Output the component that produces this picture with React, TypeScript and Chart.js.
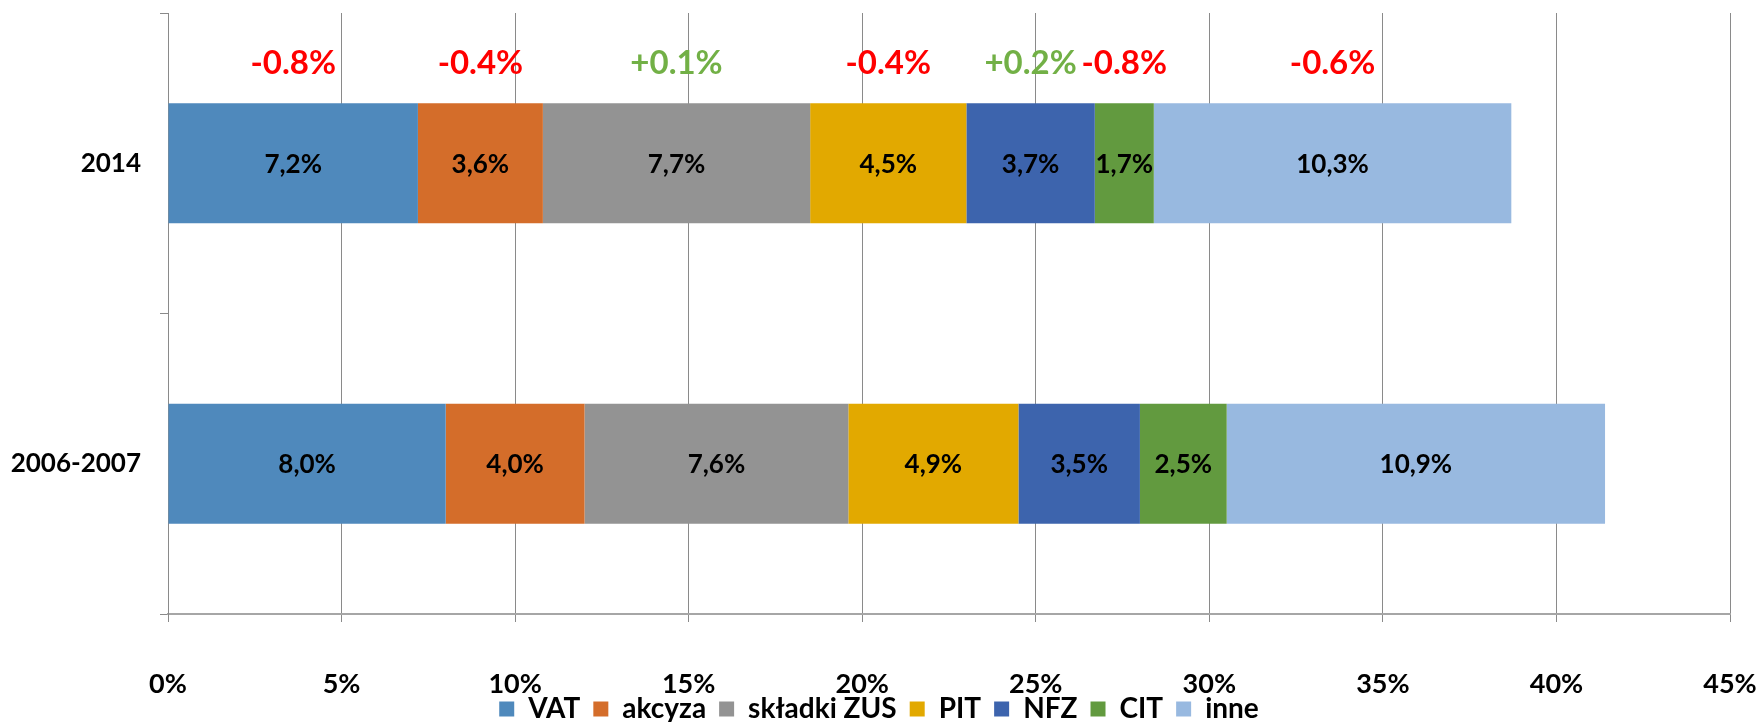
import React, { useEffect, useRef } from "react";
import { Chart, registerables } from "chart.js";

Chart.register(...registerables);

const categories = ["2014", "2006-2007"];
const seriesNames = ["VAT", "akcyza", "składki ZUS", "PIT", "NFZ", "CIT", "inne"];
const vat = [7.2, 8.0];
const akcyza = [3.6, 4.0];
const zus = [7.7, 7.6];
const pit = [4.5, 4.9];
const nfz = [3.7, 3.5];
const cit = [1.7, 2.5];
const inne = [10.3, 10.9];
const changes = [-0.8, -0.4, 0.1, -0.4, 0.2, -0.8, -0.6];
const seriesColors = ["#4F89BC", "#D46D2A", "#939393", "#E2A900", "#3D64AD", "#629A3F", "#98B9E0"];

const FONT = "Lato";
const W = 1758;
const H = 733;

const labelsPlugin = {
  id: "segLabels",
  afterDatasetsDraw(chart: any) {
    const ctx = chart.ctx;
    ctx.save();
    ctx.textAlign = "center";
    ctx.textBaseline = "middle";
    chart.data.datasets.forEach((ds: any, di: number) => {
      const meta = chart.getDatasetMeta(di);
      meta.data.forEach((el: any, i: number) => {
        const v = ds.data[i];
        const c = el.getCenterPoint();
        ctx.fillStyle = "#000";
        ctx.font = `bold 26px ${FONT}`;
        ctx.fillText(v.toFixed(1).replace(".", ",") + "%", c.x, c.y + 1);
        if (i === 0) {
          const ch = changes[di];
          const txt = (ch > 0 ? "+" : "") + ch.toFixed(1) + "%";
          ctx.fillStyle = ch < 0 ? "#FF0000" : "#72B046";
          ctx.font = `bold 33px ${FONT}`;
          const top = Math.min(el.y - el.height / 2, el.y + el.height / 2);
          ctx.fillText(txt, c.x, top - 40);
        }
      });
    });
    ctx.restore();
  },
};

export default function App() {
  const ref = useRef<HTMLCanvasElement>(null);
  useEffect(() => {
    if (!ref.current) return;
    Chart.defaults.font.family = FONT;
    const series = [vat, akcyza, zus, pit, nfz, cit, inne];
    const chart = new Chart(ref.current, {
      type: "bar",
      data: {
        labels: categories,
        datasets: series.map((d, i) => ({
          label: seriesNames[i],
          data: d,
          backgroundColor: seriesColors[i],
          borderWidth: 0,
          barPercentage: 0.8,
          categoryPercentage: 0.5,
        })),
      },
      options: {
        indexAxis: "y",
        animation: false,
        responsive: false,
        maintainAspectRatio: false,
        layout: { padding: { left: 0, right: 0, top: 13, bottom: 0 } },
        plugins: {
          tooltip: { enabled: false },
          legend: {
            position: "bottom",
            labels: {
              boxWidth: 15,
              boxHeight: 15,
              padding: 13,
              color: "#000",
              font: { family: FONT, size: 28, weight: "bold" },
            },
          },
        },
        scales: {
          x: {
            stacked: true,
            min: 0,
            max: 45,
            ticks: {
              stepSize: 5,
              color: "#000",
              padding: 46,
              font: { family: FONT, size: 27, weight: "bold" },
              callback: (v: any) => v + "%",
              maxRotation: 0,
            },
            grid: { color: "#8a8a8a", lineWidth: 1, drawTicks: true, tickLength: 8, tickColor: "#8a8a8a" },
            border: { display: true, color: "#a6a6a6", width: 2 },
            afterFit: (s: any) => {
              s.height = 68;
              s.paddingLeft = 0;
              s.paddingRight = 28;
              s._computeLabelArea = () => undefined;
            },
          },
          y: {
            stacked: true,
            ticks: {
              color: "#000",
              padding: 19,
              font: { family: FONT, size: 26, weight: "bold" },
            },
            grid: { drawOnChartArea: false, drawTicks: true, tickLength: 8, color: "#8a8a8a", offset: true },
            border: { display: true, color: "#8a8a8a", width: 1 },
            afterFit: (s: any) => {
              s.width = 168;
              s.paddingTop = 0;
              s.paddingBottom = 0;
            },
          },
        },
      },
      plugins: [labelsPlugin],
    } as any);
    return () => chart.destroy();
  }, []);
  return (
    <div style={{ position: "fixed", left: 0, top: 0, width: W, height: H, background: "#fff" }}>
      <canvas ref={ref} width={W} height={H} style={{ width: W, height: H }} />
    </div>
  );
}
